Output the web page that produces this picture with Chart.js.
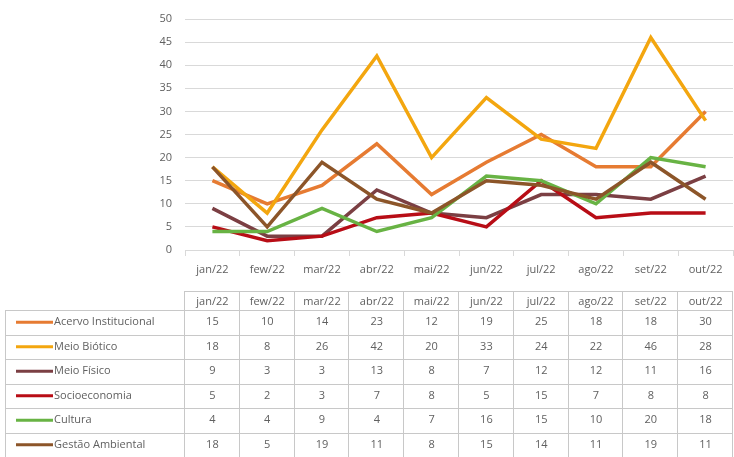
<!DOCTYPE html>
<html lang="pt">
<head>
<meta charset="UTF-8">
<title>Registros mensais por tema</title>
<script src="https://cdn.jsdelivr.net/npm/chart.js@4"></script>
<style>
    body { margin: 0; background: #fff; }
    #wrap { width: 734px; height: 457px; }
</style>
</head>
<body>
<div id="wrap"><canvas id="chart" width="734" height="457"></canvas></div>
<script>
const months = ['jan/22', 'few/22', 'mar/22', 'abr/22', 'mai/22', 'jun/22', 'jul/22', 'ago/22', 'set/22', 'out/22'];

const acervoInstitucional = [15, 10, 14, 23, 12, 19, 25, 18, 18, 30];
const meioBiotico        = [18, 8, 26, 42, 20, 33, 24, 22, 46, 28];
const meioFisico         = [9, 3, 3, 13, 8, 7, 12, 12, 11, 16];
const socioeconomia      = [5, 2, 3, 7, 8, 5, 15, 7, 8, 8];
const cultura            = [4, 4, 9, 4, 7, 16, 15, 10, 20, 18];
const gestaoAmbiental    = [18, 5, 19, 11, 8, 15, 14, 11, 19, 11];

const yTicks = [0, 5, 10, 15, 20, 25, 30, 35, 40, 45, 50];

const series = [
    { label: 'Acervo Institucional', data: acervoInstitucional, color: '#e67b32', width: 3.5 },
    { label: 'Meio Biótico',         data: meioBiotico,         color: '#f3a60f', width: 3.5 },
    { label: 'Meio Físico',          data: meioFisico,          color: '#7b3f43', width: 3.5 },
    { label: 'Socioeconomia',        data: socioeconomia,       color: '#b80d16', width: 3.5 },
    { label: 'Cultura',              data: cultura,             color: '#68b344', width: 3.5 },
    { label: 'Gestão Ambiental',     data: gestaoAmbiental,     color: '#8c5529', width: 3.5 }
];

const textColor = '#606060';
const gridColor = '#d9d9d9';
const font = { family: 'Open Sans', size: 11 };

// data table under the plot, columns follow the category scale
const tablePlugin = {
    id: 'dataTable',
    afterDraw(chart) {
        const ctx = chart.ctx;
        const x = chart.scales.x;
        const colW = (x.right - x.left) / months.length;
        const headTop = 291, headBottom = 310, rowH = 24.5;
        const left = 5;
        const bottom = headBottom + rowH * series.length;

        ctx.save();
        ctx.strokeStyle = '#c8c8c8';
        ctx.lineWidth = 1;

        // header frame
        ctx.beginPath();
        ctx.moveTo(x.left, headTop + 0.5);
        ctx.lineTo(x.right, headTop + 0.5);
        // row separators
        for (let r = 0; r <= series.length; r++) {
            const y = Math.round(headBottom + r * rowH) + 0.5;
            ctx.moveTo(left, y);
            ctx.lineTo(x.right, y);
        }
        // column separators
        for (let c = 0; c <= months.length; c++) {
            const cx = Math.round(x.left + c * colW) - 0.5;
            ctx.moveTo(cx, headTop);
            ctx.lineTo(cx, bottom);
        }
        ctx.moveTo(left + 0.5, headBottom);
        ctx.lineTo(left + 0.5, bottom);
        ctx.stroke();

        ctx.font = '11px "Open Sans"';
        ctx.textBaseline = 'middle';
        ctx.textAlign = 'center';
        ctx.fillStyle = textColor;
        months.forEach((m, i) => {
            ctx.fillText(m, x.getPixelForValue(i), (headTop + headBottom) / 2 + 1);
        });

        series.forEach((s, r) => {
            const cy = headBottom + r * rowH + rowH / 2;
            // legend key
            ctx.strokeStyle = s.color;
            ctx.lineWidth = 3;
            ctx.beginPath();
            ctx.moveTo(16, cy);
            ctx.lineTo(53, cy);
            ctx.stroke();
            ctx.textAlign = 'left';
            ctx.fillStyle = textColor;
            ctx.fillText(s.label, 54, cy);
            ctx.textAlign = 'center';
            s.data.forEach((v, i) => {
                ctx.fillText(String(v), x.getPixelForValue(i), cy);
            });
        });
        ctx.restore();
    }
};

new Chart(document.getElementById('chart'), {
    type: 'line',
    data: {
        labels: months,
        datasets: series.map((s, i) => ({
            label: s.label,
            data: s.data,
            borderColor: s.color,
            backgroundColor: s.color,
            borderWidth: s.width,
            pointRadius: 0,
            tension: 0,
            order: series.length - i
        }))
    },
    options: {
        responsive: false,
        animation: false,
        layout: { padding: { left: 125, right: 1, top: 19, bottom: 177 } },
        plugins: { legend: { display: false }, tooltip: { enabled: false } },
        scales: {
            x: {
                offset: true,
                afterFit(s) { s.height = 30; },
                grid: { offset: true, drawOnChartArea: false, drawTicks: true, tickLength: 6, color: gridColor },
                border: { color: gridColor },
                ticks: { color: textColor, font: font, padding: 7, maxRotation: 0 }
            },
            y: {
                min: 0,
                max: 50,
                afterFit(s) {
                    s.width = 60;
                    s.paddingTop = 0;
                    s.paddingBottom = 0;
                },
                afterBuildTicks(s) { s.ticks = yTicks.map(v => ({ value: v })); },
                grid: { color: gridColor, drawTicks: false },
                border: { display: false },
                ticks: { color: textColor, font: font, padding: 13 }
            }
        }
    },
    plugins: [tablePlugin]
});
</script>
</body>
</html>
